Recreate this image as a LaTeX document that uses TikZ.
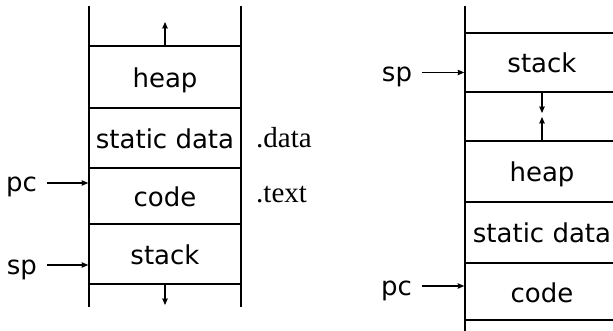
\documentclass[tikz,border=0pt]{standalone}
\usepackage{fontspec}
\setmainfont{DejaVu Sans}
\newfontfamily\secfont{Liberation Serif}
\usetikzlibrary{arrows.meta}
\tikzset{
  seg/.style={draw, line width=1.6pt, minimum width=152pt, inner sep=0pt,
    text height=21pt, text depth=0pt, font=\fontsize{26}{30}\selectfont},
  wall/.style={line width=1.9pt},
  ptr/.style={line width=1.1pt, -{Stealth[length=6.5pt,width=5.5pt,inset=0.5pt]}},
  reg/.style={font=\fontsize{26}{30}\selectfont, inner sep=0pt, inner xsep=5pt,
    outer xsep=5pt, anchor=base east},
  sec/.style={font=\secfont\fontsize{29}{32}\selectfont, inner sep=0pt, anchor=base west}
}

\begin{document}
\begin{tikzpicture}[x=1pt,y=-1pt]
            \useasboundingbox (0,0) rectangle (613,331);

            \node[seg, minimum height=62pt] (heapL) at (165,77) {heap};
            \node[seg, minimum height=60pt] (staticL) at (165,138) {static data};
            \node[seg, minimum height=56pt] (codeL) at (165,196) {code};
            \node[seg, minimum height=60pt] (stackL) at (165,254) {stack};
            \draw[wall] (89,6) -- (89,307);
            \draw[wall] (241,6) -- (241,307);

            \coordinate (upL) at (165,22);
            \coordinate (downL) at (165,305);
            \draw[ptr] (heapL.north) -- (upL);
            \draw[ptr] (stackL.south) -- (downL);

            \node[reg] (pcL) at (47,192) {pc};
            \node[reg] (spL) at (47,274) {sp};
            \draw[ptr] ([yshift=9pt]pcL.base east) -- ([yshift=9pt]pcL.base east -| codeL.west);
            \draw[ptr] ([yshift=9pt]spL.base east) -- ([yshift=9pt]spL.base east -| stackL.west);

            \node[sec] (dataL) at (256,148) {.data};
            \node[sec] (textL) at (256,203) {.text};

            \node[seg, minimum width=154pt, minimum height=59pt] (stackR) at (542,62.5) {stack};
            \node[seg, minimum width=154pt, minimum height=61pt] (heapR) at (542,171.5) {heap};
            \node[seg, minimum width=154pt, minimum height=61pt] (staticR) at (542,232.5) {static data};
            \node[seg, minimum width=154pt, minimum height=57pt] (codeR) at (542,291.5) {code};
            \draw[wall] (465,6) -- (465,340);
            \draw[wall] (619,6) -- (619,340);

            \coordinate (meetD) at (542,113);
            \coordinate (meetU) at (542,117);
            \draw[ptr] (stackR.south) -- (meetD);
            \draw[ptr] (heapR.north) -- (meetU);

            \node[reg] (spR) at (422,81.5) {sp};
            \node[reg] (pcR) at (422,295) {pc};
            \draw[ptr] ([yshift=9pt]spR.base east) -- ([yshift=9pt]spR.base east -| stackR.west);
            \draw[ptr] ([yshift=9pt]pcR.base east) -- ([yshift=9pt]pcR.base east -| codeR.west);
\end{tikzpicture}
\end{document}
